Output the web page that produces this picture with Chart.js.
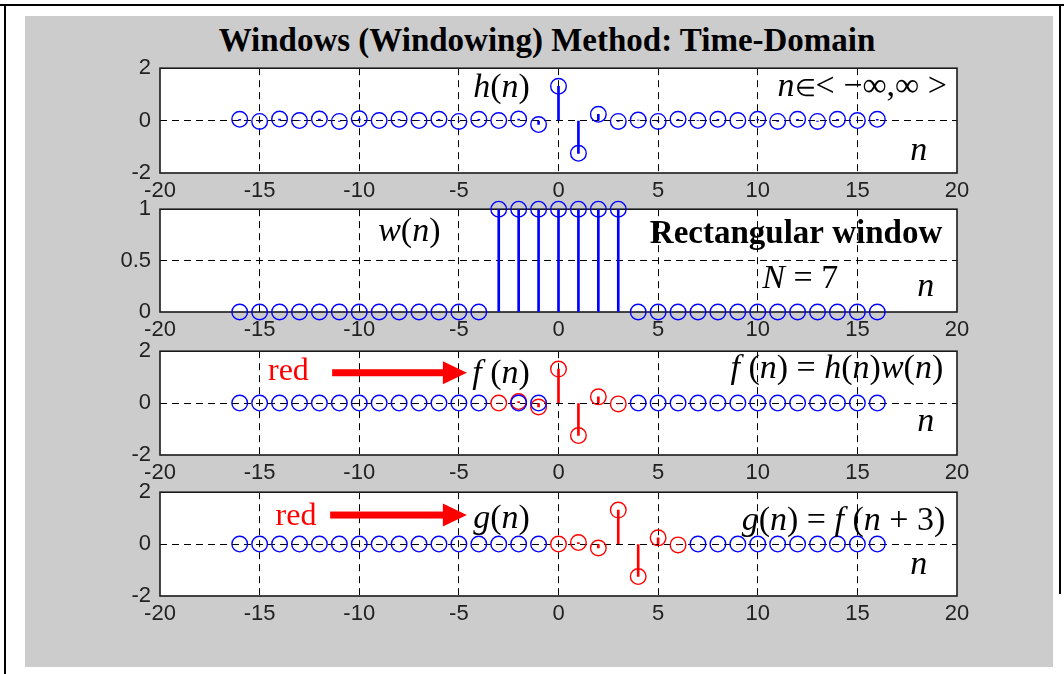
<!DOCTYPE html>
<html>
<head>
<meta charset="utf-8">
<script src="https://cdn.jsdelivr.net/npm/chart.js@4"></script>
<style>
  body { margin: 0; width: 1064px; height: 674px; background: #fff; position: relative; overflow: hidden; }
  #gray { position: absolute; left: 25px; top: 16px; width: 1028px; height: 651px; background: #cccccc; }
  .edge { position: absolute; background: #000; }
  #title { position: absolute; left: 25px; width: 1044px; top: 24px; text-align: center;
           font: bold 33px 'Liberation Serif', 'Times New Roman', serif; line-height: 1; color: #000; }
  canvas { position: absolute; left: 0; }
</style>
</head>
<body>
<div id="gray"></div>
<div class="edge" style="left:0;top:4px;width:1064px;height:2px"></div>
<div class="edge" style="left:4px;top:4px;width:2px;height:670px"></div>
<div class="edge" style="left:1059px;top:4px;width:2px;height:590px"></div>
<div id="title">Windows (Windowing) Method: Time-Domain</div>
<canvas id="c1" width="1064" height="159" style="top:46px"></canvas>
<canvas id="c2" width="1064" height="157" style="top:187px"></canvas>
<canvas id="c3" width="1064" height="158" style="top:329px"></canvas>
<canvas id="c4" width="1064" height="158" style="top:470px"></canvas>
<script>
// sample index
const nAll = [-16,-15,-14,-13,-12,-11,-10,-9,-8,-7,-6,-5,-4,-3,-2,-1,0,1,2,3,4,5,6,7,8,9,10,11,12,13,14,15,16];
// h(n)
const hVals = [0.05,-0.03,0.06,0.00,0.06,-0.03,0.07,0.00,0.05,0.00,0.05,-0.03,0.05,0.00,0.06,-0.15,
               1.31,-1.25,0.24,-0.03,0.02,-0.03,0.05,0.00,0.05,0.00,0.05,-0.03,0.05,-0.03,0.05,0.00,0.05];
// rectangular window, N = 7
const wVals = [0,0,0,0,0,0,0,0,0,0,0,0,0,1,1,1,1,1,1,1,0,0,0,0,0,0,0,0,0,0,0,0,0];
// f(n) = h(n)w(n), red part
const fN = [-3,-2,-1,0,1,2,3];
const fVals = [0.00,0.06,-0.15,1.31,-1.25,0.24,-0.03];
const fBlueN = [-16,-15,-14,-13,-12,-11,-10,-9,-8,-7,-6,-5,-4,-2,-1,4,5,6,7,8,9,10,11,12,13,14,15,16];
const fBlueVals = [0,0,0,0,0,0,0,0,0,0,0,0,0,0,0,0,0,0,0,0,0,0,0,0,0,0,0,0];
// g(n) = f(n+3), red part
const gN = [0,1,2,3,4,5,6];
const gVals = [0.00,0.06,-0.15,1.31,-1.25,0.24,-0.03];
const gBlueN = [-16,-15,-14,-13,-12,-11,-10,-9,-8,-7,-6,-5,-4,-3,-2,-1,7,8,9,10,11,12,13,14,15,16];
const gBlueVals = [0,0,0,0,0,0,0,0,0,0,0,0,0,0,0,0,0,0,0,0,0,0,0,0,0,0];
// axes
const xMin = -20, xMax = 20, xStep = 5;
const ySigMin = -2, ySigMax = 2, ySigStep = 2;
const yWinMin = 0, yWinMax = 1, yWinStep = 0.5;

const BLUE = '#0000ff', RED = '#ff0000';
const SERIF = "'Liberation Serif', 'Times New Roman', serif";

const pts = (xs, ys) => xs.map((x, i) => ({ x: x, y: ys[i] }));

function stems(xs, ys, color) {
  return { type: 'bar', data: pts(xs, ys), backgroundColor: color, borderWidth: 0,
           barThickness: 2, order: 3 };
}
function markers(xs, ys, color, order) {
  return { type: 'scatter', data: pts(xs, ys), borderColor: color, backgroundColor: 'rgba(0,0,0,0)',
           pointStyle: 'circle', pointRadius: 7.8, borderWidth: 1.4, showLine: false, clip: false,
           order: order };
}

// draw text where latin letters are italic (math style)
function drawRich(ctx, text, x, y, size, align, color, style) {
  ctx.save();
  ctx.fillStyle = color;
  ctx.textBaseline = 'alphabetic';
  ctx.textAlign = 'left';
  let runs = [];
  if (style) {
    runs.push({ t: text, f: style + ' ' + size + 'px ' + SERIF });
  } else {
    for (const ch of text) {
      let f;
      if (/[a-zA-Z]/.test(ch)) f = 'italic ' + size + 'px ' + SERIF;
      else if (ch === '\u2208') f = Math.round(size * 0.72) + 'px ' + SERIF;
      else f = size + 'px ' + SERIF;
      if (runs.length && runs[runs.length - 1].f === f) runs[runs.length - 1].t += ch;
      else runs.push({ t: ch, f: f });
    }
  }
  let total = 0;
  runs.forEach(r => { ctx.font = r.f; r.w = ctx.measureText(r.t).width; total += r.w; });
  let cx = align === 'right' ? x - total : x;
  runs.forEach(r => { ctx.font = r.f; ctx.fillText(r.t, cx, y); cx += r.w; });
  ctx.restore();
}

const panelPlugin = {
  id: 'panel',
  beforeDraw(chart) {
    const { ctx, chartArea: a } = chart;
    ctx.save();
    ctx.fillStyle = '#fff';
    ctx.fillRect(a.left, a.top, a.right - a.left, a.bottom - a.top);
    ctx.restore();
  },
  beforeDatasetsDraw(chart) {
    const { ctx, chartArea: a } = chart;
    ctx.save();
    ctx.strokeStyle = '#1a1a1a';
    ctx.lineWidth = 1.6;
    ctx.strokeRect(a.left, a.top, a.right - a.left, a.bottom - a.top);
    ctx.restore();
  },
  afterDatasetsDraw(chart, args, opts) {
    const { ctx, scales: { x, y } } = chart;
    (opts.items || []).forEach(it => {
      const px = x.getPixelForValue(it.n), py = y.getPixelForValue(it.v);
      if (it.arrow) {
        const ex = x.getPixelForValue(it.n2);
        ctx.save();
        ctx.fillStyle = RED;
        ctx.fillRect(px, py - 3.5, ex - px - 22, 7);
        ctx.beginPath();
        ctx.moveTo(ex - 24, py - 11.5);
        ctx.lineTo(ex, py);
        ctx.lineTo(ex - 24, py + 11.5);
        ctx.closePath();
        ctx.fill();
        ctx.restore();
      } else {
        drawRich(ctx, it.text, px, py, it.size || 34, it.align || 'left', it.color || '#000', it.style);
      }
    });
  }
};

function makePanel(id, datasets, yMin, yMax, yStep, notes) {
  const gridColor = c => (c.tick && (c.tick.value === c.scale.min || c.tick.value === c.scale.max))
    ? 'rgba(0,0,0,0)' : '#000';
  const tickFont = { family: "'Liberation Sans', Arial, sans-serif", size: 22 };
  return new Chart(document.getElementById(id), {
    type: 'scatter',
    data: { datasets: datasets },
    plugins: [panelPlugin],
    options: {
      responsive: false,
      animation: false,
      layout: { padding: { left: 0, right: 107, top: 20, bottom: 0 } },
      plugins: { legend: { display: false }, tooltip: { enabled: false }, panel: { items: notes } },
      scales: {
        x: {
          type: 'linear', min: xMin, max: xMax, offset: false,
          afterFit: s => { s.height = 32; },
          ticks: { stepSize: xStep, color: '#222', padding: 5, font: tickFont,
                   callback: v => String(v) },
          grid: { color: gridColor, lineWidth: 1, drawTicks: false, offset: false },
          border: { display: false, dash: [7, 5] }
        },
        y: {
          min: yMin, max: yMax,
          afterFit: s => { s.width = 160; },
          ticks: { stepSize: yStep, color: '#222', padding: 9, font: tickFont,
                   callback: v => String(v) },
          grid: { color: gridColor, lineWidth: 1, drawTicks: false },
          border: { display: false, dash: [7, 5] }
        }
      }
    }
  });
}

makePanel('c1', [
  markers(nAll, hVals, BLUE, 1),
  stems(nAll, hVals, BLUE)
], ySigMin, ySigMax, ySigStep, [
  { text: 'h(n)', n: -4.28, v: 0.9 },
  { text: 'n\u2208< \u2212\u221e,\u221e >', n: 19.5, v: 0.93, align: 'right' },
  { text: 'n', n: 17.65, v: -1.5 }
]);

makePanel('c2', [
  markers(nAll, wVals, BLUE, 1),
  stems(nAll, wVals, BLUE)
], yWinMin, yWinMax, yWinStep, [
  { text: 'w(n)', n: -9.05, v: 0.686 },
  { text: 'Rectangular window', n: 19.26, v: 0.667, align: 'right', style: 'bold', size: 33 },
  { text: 'N = 7', n: 10.23, v: 0.23 },
  { text: 'n', n: 18.0, v: 0.16 }
]);

makePanel('c3', [
  markers(fBlueN, fBlueVals, BLUE, 1),
  markers(fN, fVals, RED, 2),
  stems(fN, fVals, RED)
], ySigMin, ySigMax, ySigStep, [
  { text: 'red', n: -14.58, v: 0.906, style: 'normal', size: 32, color: RED },
  { arrow: true, n: -11.36, n2: -4.6, v: 1.17 },
  { text: 'f (n)', n: -4.33, v: 0.79 },
  { text: 'f (n) = h(n)w(n)', n: 19.31, v: 0.98, align: 'right' },
  { text: 'n', n: 18.0, v: -1.09 }
]);

makePanel('c4', [
  markers(gBlueN, gBlueVals, BLUE, 1),
  markers(gN, gVals, RED, 2),
  stems(gN, gVals, RED)
], ySigMin, ySigMax, ySigStep, [
  { text: 'red', n: -14.2, v: 0.74, style: 'normal', size: 32, color: RED },
  { arrow: true, n: -11.46, n2: -4.6, v: 1.12 },
  { text: 'g(n)', n: -4.28, v: 0.63 },
  { text: 'g(n) = f (n + 3)', n: 19.41, v: 0.55, align: 'right' },
  { text: 'n', n: 17.65, v: -1.15 }
]);
</script>
</body>
</html>
